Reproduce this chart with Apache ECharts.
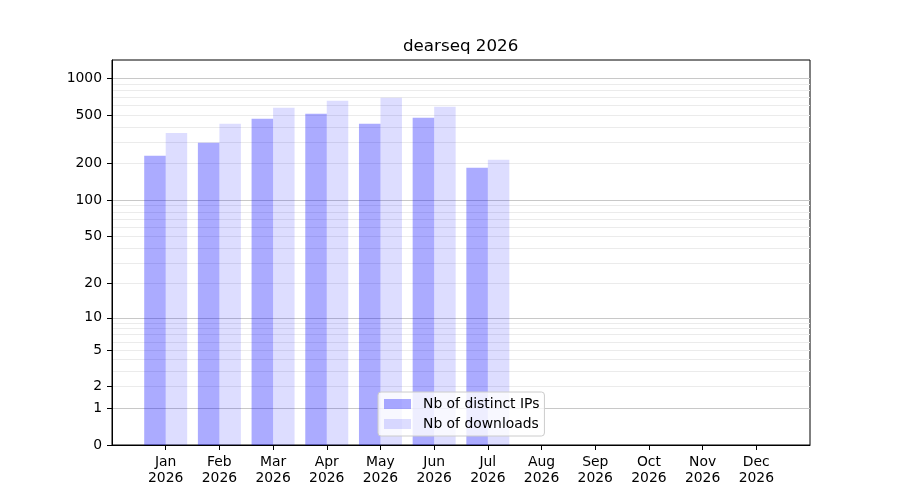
<!DOCTYPE html>
<html>
<head>
<meta charset="utf-8">
<script src="https://cdn.jsdelivr.net/npm/echarts@6/dist/echarts.min.js"></script>
<style>
  html, body { margin: 0; padding: 0; background: #fff; }
  #chart { width: 900px; height: 500px; }
</style>
</head>
<body>
<div id="chart"></div>
<script>
// 月份标签
const months = ['Jan', 'Feb', 'Mar', 'Apr', 'May', 'Jun', 'Jul', 'Aug', 'Sep', 'Oct', 'Nov', 'Dec'];
const year = '2026';

// 不同 IP 数 / 下载数 (Jan - Jul)
const distinctIPs = [232, 297, 467, 514, 425, 476, 185];
const downloads = [358, 425, 576, 657, 696, 587, 215];

// y 轴刻度
const yTicks = [0, 1, 2, 5, 10, 20, 50, 100, 200, 500, 1000];
const majorLines = [1, 10, 100, 1000];
const minorLines = [2, 3, 4, 5, 6, 7, 8, 9, 20, 30, 40, 50, 60, 70, 80, 90,
  200, 300, 400, 500, 600, 700, 800, 900];

// log10(1 + x) 变换
const tr = v => Math.log10(1 + v);

// x 轴: 前后各留一个空位置
let cats = [''];
months.forEach(m => cats.push(m + '\n' + year));
cats.push('');

const pad = arr => {
  let out = [null];
  for (let i = 0; i < 12; i++) {
    out.push(i < arr.length ? tr(arr[i]) : null);
  }
  out.push(null);
  return out;
};

const yMax = 3.152;
const font = 'DejaVu Sans';
const fs = 13.9;

const hiddenAxis = (vals, color) => ({
  type: 'value',
  min: 0,
  max: yMax,
  position: 'left',
  axisLine: { show: false },
  axisLabel: { show: false },
  axisTick: { show: false, customValues: vals.map(tr) },
  splitLine: { show: true, lineStyle: { color, width: 1 } }
});

const chart = echarts.init(document.getElementById('chart'), null, { renderer: 'canvas' });

chart.setOption({
  animation: false,
  backgroundColor: '#ffffff',
  textStyle: { fontFamily: font },
  title: {
    text: 'dearseq ' + year,
    left: 403,
    top: 38,
    padding: 0,
    textStyle: { fontFamily: font, fontSize: 16.7, fontWeight: 'normal', color: '#000' }
  },
  legend: {
    orient: 'vertical',
    left: 378,
    top: 392,
    padding: [5, 5, 5, 6],
    itemWidth: 27,
    itemHeight: 10,
    itemGap: 6,
    backgroundColor: 'rgba(255,255,255,0.8)',
    borderColor: '#cccccc',
    borderWidth: 1,
    borderRadius: 3,
    icon: 'rect',
    textStyle: { fontFamily: font, fontSize: fs, color: '#000', padding: [0, 0, 0, 7] },
    data: ['Nb of distinct IPs', 'Nb of downloads']
  },
  grid: {
    left: 112,
    right: 90,
    top: 60,
    bottom: 55,
    outerBoundsMode: 'none',
    show: true,
    borderColor: '#000',
    borderWidth: 1
  },
  xAxis: {
    type: 'category',
    data: cats,
    boundaryGap: false,
    axisLine: { lineStyle: { color: '#000', width: 1 } },
    axisTick: {
      length: 5,
      lineStyle: { color: '#000' },
      interval: (i) => i > 0 && i < cats.length - 1
    },
    axisLabel: {
      interval: (i) => i > 0 && i < cats.length - 1,
      margin: 9,
      fontFamily: font,
      fontSize: fs,
      lineHeight: 16,
      color: '#000'
    },
    splitLine: { show: false }
  },
  yAxis: [
    {
      type: 'value',
      min: 0,
      max: yMax,
      position: 'left',
      axisLine: { show: true, lineStyle: { color: '#000' } },
      axisTick: { show: true, length: 5, lineStyle: { color: '#000' }, customValues: yTicks.map(tr) },
      axisLabel: {
        customValues: yTicks.map(tr),
        formatter: v => String(Math.round(Math.pow(10, v) - 1)),
        margin: 10,
        fontFamily: font,
        fontSize: fs,
        color: '#000',
        padding: [2, 0, 0, 0]
      },
      splitLine: { show: false }
    },
    hiddenAxis(minorLines, '#ebebeb'),
    hiddenAxis(majorLines, '#c8c8c8')
  ],
  series: [
    {
      name: 'Nb of distinct IPs',
      type: 'bar',
      yAxisIndex: 0,
      barWidth: 21.5,
      barGap: '0%',
      itemStyle: { color: 'rgba(0,0,255,0.33)' },
      data: pad(distinctIPs)
    },
    {
      name: 'Nb of downloads',
      type: 'bar',
      yAxisIndex: 0,
      barWidth: 21.5,
      barGap: '0%',
      itemStyle: { color: 'rgba(0,0,255,0.135)' },
      data: pad(downloads)
    }
  ]
});
</script>
</body>
</html>
